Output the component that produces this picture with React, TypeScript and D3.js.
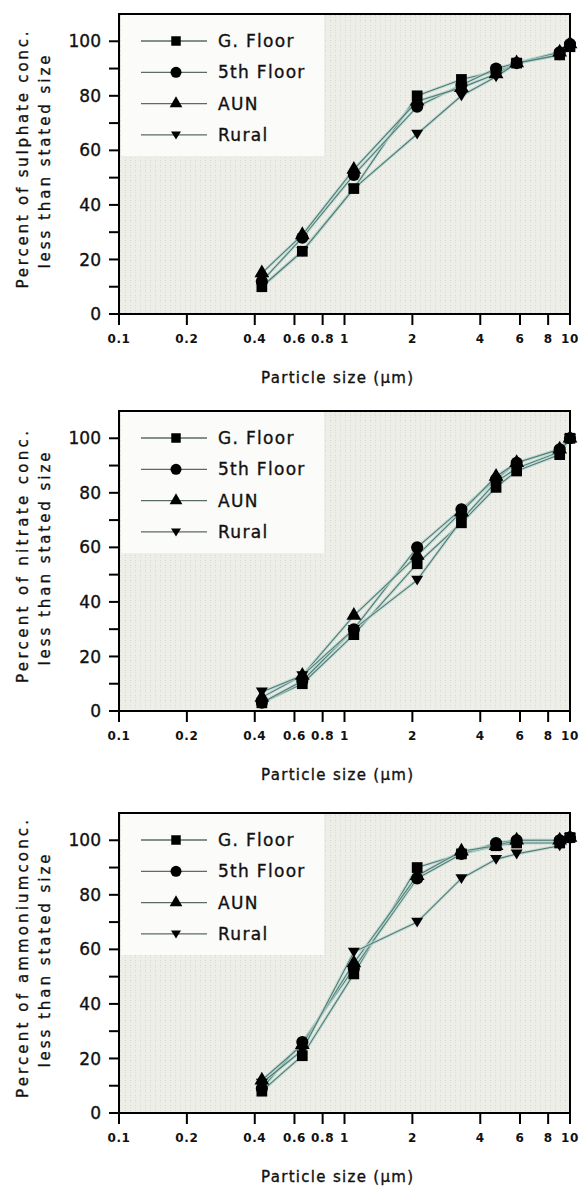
import React from "react";
import * as d3 from "d3";

// Impactor stage cut-off diameters (µm); the last point closes each curve at 10 µm
const sizes = [0.43, 0.65, 1.1, 2.1, 3.3, 4.7, 5.8, 9.0, 10];

const seriesNames = ["G. Floor", "5th Floor", "AUN", "Rural"];

// Sulphate – cumulative percent less than stated size
const sulGFloor = [10, 23, 46, 80, 86, 89, 92, 95, 98];
const sulFifth = [12, 28, 51, 76, 84, 90, 92, 96, 99];
const sulAun = [15, 29, 53, 78, 83, 88, 92, 96, 99];
const sulRural = [10, 23, 46, 66, 80, 87, 92, 95, 98];

// Nitrate
const nitGFloor = [3, 10, 28, 54, 69, 82, 88, 94, 100];
const nitFifth = [3, 11, 30, 60, 74, 85, 91, 96, 100];
const nitAun = [5, 13, 35, 57, 73, 86, 91, 96, 100];
const nitRural = [7, 13, 30, 48, 70, 84, 89, 95, 100];

// Ammonium
const ammGFloor = [8, 21, 51, 90, 95, 98, 99, 99, 101];
const ammFifth = [9, 26, 53, 86, 95, 99, 100, 100, 101];
const ammAun = [12, 25, 55, 87, 96, 98, 100, 100, 101];
const ammRural = [11, 23, 59, 70, 86, 93, 95, 98, 101];

const xTickValues = [0.1, 0.2, 0.4, 0.6, 0.8, 1, 2, 4, 6, 8, 10];
const xTickLabels = ["0.1", "0.2", "0.4", "0.6", "0.8", "1", "2", "4", "6", "8", "10"];
const yTickValues = [0, 10, 20, 30, 40, 50, 60, 70, 80, 90, 100];
const yTickLabels = ["0", "", "20", "", "40", "", "60", "", "80", "", "100"];

const panelTitles = [
  "Percent of sulphate conc.",
  "Percent of nitrate conc.",
  "Percent of ammoniumconc.",
];
const yTitle2 = "less than stated size";
const xTitle = "Particle size (µm)";

const panels = [
  { title: panelTitles[0], series: [sulGFloor, sulFifth, sulAun, sulRural], top: 14, titleLen: 257 },
  { title: panelTitles[1], series: [nitGFloor, nitFifth, nitAun, nitRural], top: 411, titleLen: 252 },
  { title: panelTitles[2], series: [ammGFloor, ammFifth, ammAun, ammRural], top: 813, titleLen: 278 },
];

const symbols = [
  d3.symbol().type(d3.symbolSquare).size(115)(),
  d3.symbol().type(d3.symbolCircle).size(115)(),
  d3.symbol().type(d3.symbolTriangle).size(95)(),
  "M-6,-4.3L6,-4.3L0,5.5Z",
];
const legendSymbols = [
  d3.symbol().type(d3.symbolSquare).size(90)(),
  d3.symbol().type(d3.symbolCircle).size(95)(),
  d3.symbol().type(d3.symbolTriangle).size(70)(),
  "M-5,-3.5L5,-3.5L0,4.5Z",
];

const FONT = "'DejaVu Sans', Verdana, sans-serif";
const LEFT = 119;
const RIGHT = 570;
const H = 300;
const INK = "#111";
// thin outline that gives the labels a slightly heavier stroke
const heavy = { stroke: INK, strokeWidth: 0.35 };

const x = d3.scaleLog().domain([0.1, 10]).range([LEFT, RIGHT]);

function Panel({ p }: { p: typeof panels[number] }) {
  const bottom = p.top + H;
  const y = d3.scaleLinear().domain([0, 110]).range([bottom, p.top]);
  const line = d3
    .line<number>()
    .x((_, i) => x(sizes[i]))
    .y((v) => y(v));
  const cy = p.top + H / 2 - 4;
  return (
    <g>
      {/* plot background */}
      <rect x={LEFT} y={p.top} width={RIGHT - LEFT} height={H} fill={`url(#bgdots)`} />
      {/* legend area */}
      <rect x={LEFT + 2} y={p.top + 1} width={203} height={141} fill="#fbfbf9" />
      {seriesNames.map((name, i) => {
        const ly = p.top + 27 + i * 31.3;
        return (
          <g key={name}>
            <line x1={141} x2={207} y1={ly} y2={ly} stroke="#5a6b68" strokeWidth={1.3} />
            <path d={legendSymbols[i]} transform={`translate(176,${ly})`} fill="#000" />
            <text
              x={218}
              y={ly}
              dy="0.36em"
              fontFamily={FONT}
              fontSize={17}
              letterSpacing={1.3}
              fill={INK}
              {...heavy}
            >
              {name}
            </text>
          </g>
        );
      })}
      {/* series lines */}
      {p.series.map((vals, i) => (
        <g key={"l" + i}>
          <path d={line(vals) || ""} fill="none" stroke="#b9d6cf" strokeWidth={3.2} opacity={0.75} />
          <path d={line(vals) || ""} fill="none" stroke="#4f7c74" strokeWidth={1.1} />
        </g>
      ))}
      {/* markers */}
      {p.series.map((vals, i) =>
        vals.map((v, j) => (
          <path
            key={`m${i}-${j}`}
            d={symbols[i]}
            transform={`translate(${x(sizes[j])},${y(v)})`}
            fill="#000"
          />
        ))
      )}
      {/* frame */}
      <rect x={LEFT} y={p.top} width={RIGHT - LEFT} height={H} fill="none" stroke="#000" strokeWidth={2} />
      {/* y axis */}
      {yTickValues.map((t, i) => (
        <g key={"y" + t}>
          <line x1={LEFT - 10} x2={LEFT} y1={y(t)} y2={y(t)} stroke="#000" strokeWidth={2} />
          {yTickLabels[i] && (
            <text
              x={LEFT - 18}
              y={y(t)}
              dy="0.36em"
              textAnchor="end"
              fontFamily={FONT}
              fontSize={17}
              fill={INK}
              {...heavy}
            >
              {yTickLabels[i]}
            </text>
          )}
        </g>
      ))}
      {/* x axis */}
      {xTickValues.map((t, i) => (
        <g key={"x" + t}>
          <line x1={x(t)} x2={x(t)} y1={bottom} y2={bottom + 11} stroke="#000" strokeWidth={2} />
          <text
            x={x(t)}
            y={bottom + 29}
            textAnchor="middle"
            fontFamily={FONT}
            fontSize={12}
            fontWeight="bold"
            letterSpacing={0.6}
            fill={INK}
          >
            {xTickLabels[i]}
          </text>
        </g>
      ))}
      <text
        x={337}
        y={bottom + 69}
        textAnchor="middle"
        fontFamily={FONT}
        fontSize={15}
        textLength={152}
        lengthAdjust="spacing"
        fill={INK}
        {...heavy}
      >
        {xTitle}
      </text>
      {/* y titles */}
      <text
        transform={`translate(28,${cy}) rotate(-90)`}
        textAnchor="middle"
        fontFamily={FONT}
        fontSize={15}
        textLength={p.titleLen}
        lengthAdjust="spacing"
        fill={INK}
        {...heavy}
      >
        {p.title}
      </text>
      <text
        transform={`translate(50,${cy + 2}) rotate(-90)`}
        textAnchor="middle"
        fontFamily={FONT}
        fontSize={15}
        textLength={213}
        lengthAdjust="spacing"
        fill={INK}
        {...heavy}
      >
        {yTitle2}
      </text>
    </g>
  );
}

export default function App() {
  return (
    <svg
      width={582}
      height={1187}
      style={{ position: "absolute", left: 0, top: 0, display: "block", background: "#fff" }}
    >
      <defs>
        <pattern id="bgdots" width={5} height={5} patternUnits="userSpaceOnUse">
          <rect width={5} height={5} fill="#eeeee9" />
          <rect x={0} y={0} width={1} height={1} fill="#d6d6cf" />
          <rect x={0} y={2} width={1} height={1} fill="#e0e0da" />
        </pattern>
      </defs>
      {panels.map((p, i) => (
        <Panel key={i} p={p} />
      ))}
    </svg>
  );
}
